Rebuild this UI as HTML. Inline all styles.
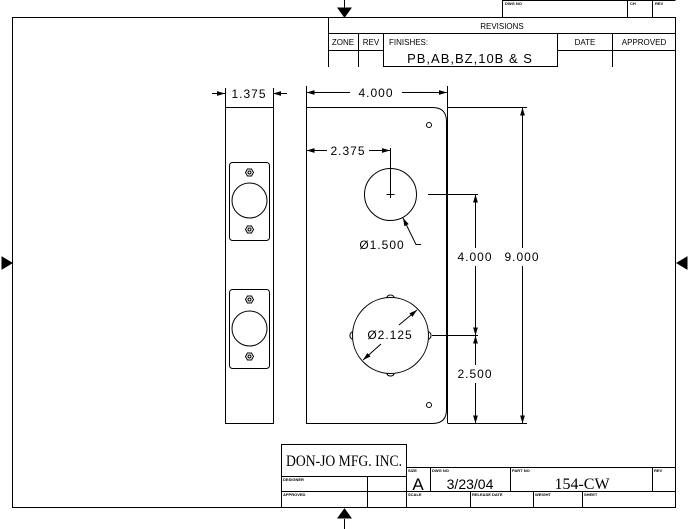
<!DOCTYPE html>
<html><head><meta charset="utf-8"><style>
html,body{margin:0;padding:0;background:#fff;}
svg{display:block;}
text{font-family:"Liberation Sans",sans-serif;fill:#000;}
.s{font-size:4px;font-weight:bold;}
.m{font-size:8px;}
.d{font-size:12px;letter-spacing:1px;}
</style></head><body>
<svg width="689" height="529" viewBox="0 0 689 529" xmlns="http://www.w3.org/2000/svg">
<defs>
<marker id="a" viewBox="0 0 10 6" refX="10" refY="3" markerWidth="8" markerHeight="5" orient="auto-start-reverse" markerUnits="userSpaceOnUse"><path d="M0,0 L10,3 L0,6 z" fill="#000"/></marker>
</defs>
<g fill="none" stroke="#000" stroke-width="1">
<rect x="12.5" y="17.5" width="663" height="490"/>
<path d="M502.5,17.5 V0.5 H675.5 M627.5,0.5 V17.5 M652.5,0.5 V17.5"/>
<rect x="328.5" y="17.5" width="347" height="16"/>
<path d="M328.5,33.5 V67 M358.5,33.5 V67 M383.5,33.5 V67 M557.5,33.5 V67 M612.5,33.5 V67 M328.5,50.5 H383.5 M557.5,50.5 H675.5"/>
<rect x="383.5" y="33.5" width="174" height="33"/>
<rect x="281.5" y="444.5" width="125" height="32"/>
<path d="M281.5,476.5 V507.5 M406.5,467.5 H675.5 M652.5,467.5 V491.5 M281.5,491.5 H675.5 M367.5,476.5 V507.5 M406.5,467.5 V507.5 M430.5,467.5 V491.5 M510.5,467.5 V491.5 M470.5,491.5 V507.5 M533.5,491.5 V507.5 M582.5,491.5 V507.5"/>
</g>
<g fill="#000" stroke="#000">
<path d="M344.5,0 V10" /><path d="M338,8 L351,8 L344.5,17 z"/>
<path d="M344.5,519 V529"/><path d="M338,518 L351,518 L344.5,509 z"/>
<path d="M2,257 L12,263 L2,269 z"/>
<path d="M687,257 L677,263 L687,269 z"/>
</g>
<text class="s" x="505" y="5">DWG NO</text>
<text class="s" x="630" y="5">CH</text>
<text class="s" x="655" y="5">REV</text>
<text class="m" x="502" y="29" text-anchor="middle">REVISIONS</text>
<text class="m" x="343" y="45" text-anchor="middle">ZONE</text>
<text class="m" x="371" y="45" text-anchor="middle">REV</text>
<text class="m" x="389" y="45">FINISHES:</text>
<text class="m" x="585" y="45" text-anchor="middle">DATE</text>
<text class="m" x="644" y="45" text-anchor="middle">APPROVED</text>
<text x="470" y="63" text-anchor="middle" style="font-size:13px;letter-spacing:1px">PB,AB,BZ,10B &amp; S</text>
<text x="286" y="466" textLength="116" lengthAdjust="spacingAndGlyphs" style="font-family:'Liberation Serif',serif;font-size:16px">DON-JO MFG. INC.</text>
<text class="s" x="283" y="481">DESIGNER</text>
<text class="s" x="283" y="496">APPROVED</text>
<text class="s" x="408" y="472">SIZE</text>
<text class="s" x="432" y="472">DWG NO</text>
<text class="s" x="512" y="472">PART NO</text>
<text class="s" x="654" y="472">REV</text>
<text class="s" x="408" y="496">SCALE</text>
<text class="s" x="472" y="496">RELEASE DATE</text>
<text class="s" x="535" y="496">WEIGHT</text>
<text class="s" x="584" y="496">SHEET</text>
<text x="418" y="490" text-anchor="middle" style="font-size:17px">A</text>
<text x="470" y="489" text-anchor="middle" style="font-size:14px">3/23/04</text>
<text x="582" y="489" text-anchor="middle" style="font-family:'Liberation Serif',serif;font-size:16px">154-CW</text>
<g fill="none" stroke="#000" stroke-width="1">
<rect x="225.5" y="107.5" width="48" height="316"/>
<rect x="229.5" y="162.5" width="40" height="78" rx="3"/>
<rect x="229.5" y="289.5" width="40" height="79" rx="3"/>
<circle cx="249.5" cy="200.5" r="17.5"/>
<circle cx="249.5" cy="328.5" r="17.5"/>
<g>
<polygon points="245.5,172.5 247.5,169 251.5,169 253.5,172.5 251.5,176 247.5,176"/><circle cx="249.5" cy="172.5" r="1.5"/>
<polygon points="245.5,229.5 247.5,226 251.5,226 253.5,229.5 251.5,233 247.5,233"/><circle cx="249.5" cy="229.5" r="1.5"/>
<polygon points="245.5,299.5 247.5,296 251.5,296 253.5,299.5 251.5,303 247.5,303"/><circle cx="249.5" cy="299.5" r="1.5"/>
<polygon points="245.5,356.5 247.5,353 251.5,353 253.5,356.5 251.5,360 247.5,360"/><circle cx="249.5" cy="356.5" r="1.5"/>
</g>
<path d="M306.5,107.5 H432.5 Q446.5,107.5 446.5,121.5 V409.5 Q446.5,423.5 432.5,423.5 H306.5 Z"/>
<path d="M447.5,86 V423.5 M306.5,86 V150 M225.5,88 V107 M273.5,88 V107"/>
<circle cx="429" cy="125" r="2.5"/>
<circle cx="429" cy="405" r="2.5"/>
<circle cx="390.5" cy="194.5" r="26"/>
<path d="M390.5,148 V198 M386.5,194.5 H394.5"/>
<circle cx="390.5" cy="335.5" r="38"/>
<path d="M386.7,297.7 A4,4 0 0 1 394.3,297.7"/>
<path d="M386.7,373.3 A4,4 0 0 0 394.3,373.3"/>
<path d="M352.7,331.7 A4,4 0 0 0 352.7,339.3"/>
<path d="M428.3,331.7 A4,4 0 0 1 428.3,339.3"/>
<path d="M428,194.5 H478 M432,335.5 H478 M448,107.5 H527 M448,423.5 H527"/>
<path d="M306.5,92.5 H350 M402,92.5 H447" marker-start="url(#a)" marker-end="url(#a)"/>
<path d="M212,93.5 H225" marker-end="url(#a)"/>
<path d="M287,93.5 H273" marker-end="url(#a)"/>
<path d="M306.5,150.5 H327 M369,150.5 H390" marker-start="url(#a)" marker-end="url(#a)"/>
<path d="M475.5,194.5 V248 M475.5,266 V335.5" marker-start="url(#a)" marker-end="url(#a)"/>
<path d="M475.5,335.5 V365 M475.5,383 V423.5" marker-start="url(#a)" marker-end="url(#a)"/>
<path d="M522.5,107.5 V248 M522.5,266 V423.5" marker-start="url(#a)" marker-end="url(#a)"/>
<path d="M421,244.5 H416 L403,218" marker-end="url(#a)"/>
<path d="M399,325 L417,310" marker-end="url(#a)"/>
<path d="M381,344 L363,360" marker-end="url(#a)"/>
</g>
<text class="d" x="249" y="98" text-anchor="middle">1.375</text>
<text class="d" x="376" y="97" text-anchor="middle">4.000</text>
<text class="d" x="348" y="155" text-anchor="middle">2.375</text>
<text class="d" x="382" y="249" text-anchor="middle">Ø1.500</text>
<text class="d" x="390" y="339" text-anchor="middle">Ø2.125</text>
<text class="d" x="475" y="261" text-anchor="middle">4.000</text>
<text class="d" x="522" y="261" text-anchor="middle">9.000</text>
<text class="d" x="475" y="378" text-anchor="middle">2.500</text>
</svg>
</body></html>
